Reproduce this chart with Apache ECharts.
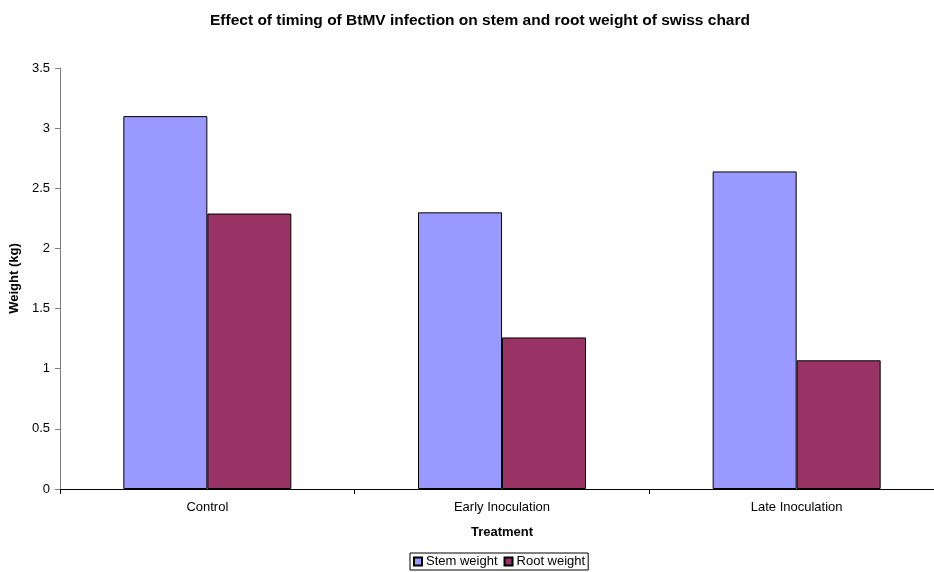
<!DOCTYPE html>
<html>
<head>
<meta charset="utf-8">
<script src="https://cdn.jsdelivr.net/npm/echarts@6/dist/echarts.min.js"></script>
<style>
  html, body { margin: 0; padding: 0; background: #fff; overflow: hidden; }
  /* the plot runs slightly past the right edge of the window */
  #chart { width: 946px; height: 572px; }
</style>
</head>
<body>
<div id="chart"></div>
<script>
// Treatments and measured weights (kg)
const categories = ['Control', 'Early Inoculation', 'Late Inoculation'];
const stemWeight = [3.1, 2.3, 2.64];
const rootWeight = [2.29, 1.26, 1.07];
const yTicks = [0, 0.5, 1, 1.5, 2, 2.5, 3, 3.5];

const font = 'Arial, "Liberation Sans", sans-serif';
const chart = echarts.init(document.getElementById('chart'), null, { renderer: 'canvas' });

chart.setOption({
  animation: false,
  backgroundColor: '#ffffff',
  title: {
    text: 'Effect of timing of BtMV infection on stem and root weight of swiss chard',
    left: 475, top: 8, textAlign: 'center',
    textStyle: { fontFamily: font, fontSize: 15.5, fontWeight: 'bold', color: '#000' }
  },
  legend: {
    left: 410, top: 553,
    data: ['Stem weight', 'Root weight'],
    itemWidth: 8, itemHeight: 8, itemGap: 6,
    padding: [2, 3, 2, 3],
    borderColor: '#000', borderWidth: 1,
    icon: 'rect',
    textStyle: { fontFamily: font, fontSize: 13, color: '#000', padding: [0, 0, 0, -1] }
  },
  grid: { left: 60, top: 68, width: 884, height: 421, containLabel: false },
  xAxis: {
    type: 'category',
    data: categories,
    name: 'Treatment',
    nameLocation: 'middle',
    nameGap: 37,
    nameTextStyle: { fontFamily: font, fontSize: 13, fontWeight: 'bold', color: '#000' },
    axisLine: { lineStyle: { color: '#000', width: 1 } },
    axisTick: { show: true, inside: false, length: 5, lineStyle: { color: '#000' } },
    axisLabel: { fontFamily: font, fontSize: 13, color: '#000', margin: 12 },
    splitLine: { show: false }
  },
  yAxis: {
    type: 'value',
    min: 0, max: 3.5, interval: 0.5,
    name: 'Weight (kg)',
    nameLocation: 'middle',
    nameGap: 37,
    nameRotate: 90,
    nameTextStyle: { fontFamily: font, fontSize: 13, fontWeight: 'bold', color: '#000' },
    axisLine: { show: true, lineStyle: { color: '#808080', width: 1 } },
    axisTick: { show: true, length: 5, lineStyle: { color: '#808080' } },
    axisLabel: {
      fontFamily: font, fontSize: 13, color: '#000', margin: 10,
      formatter: v => (yTicks.includes(v) ? String(v) : '')
    },
    splitLine: { show: false }
  },
  series: [
    {
      name: 'Stem weight',
      type: 'bar',
      data: stemWeight,
      barWidth: 84,
      barGap: '0%',
      itemStyle: { color: '#9999FF', borderColor: '#000', borderWidth: 1 }
    },
    {
      name: 'Root weight',
      type: 'bar',
      data: rootWeight,
      barWidth: 84,
      itemStyle: { color: '#993366', borderColor: '#000', borderWidth: 1 }
    }
  ]
});
</script>
</body>
</html>
